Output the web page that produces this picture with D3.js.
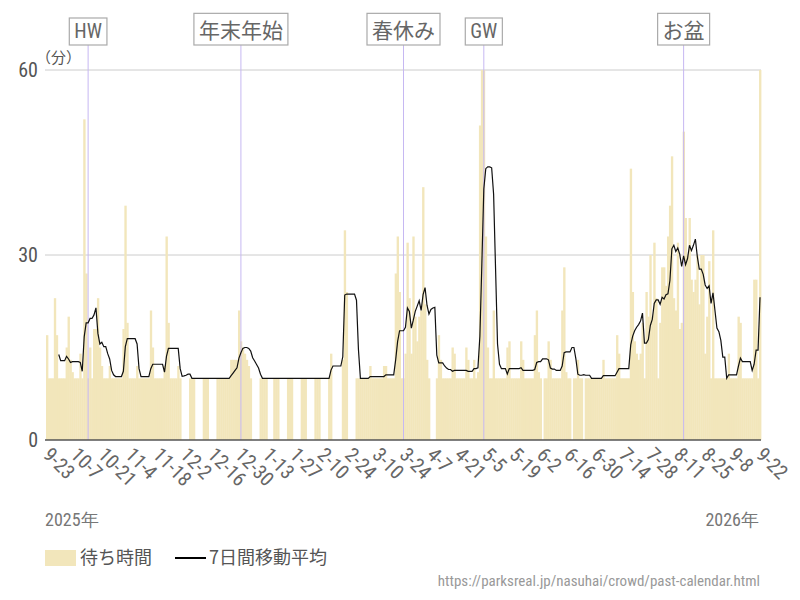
<!DOCTYPE html>
<html><head><meta charset="utf-8">
<script src="https://cdn.jsdelivr.net/npm/d3@7"></script>
<style>
body{margin:0;background:#fff;}
svg{display:block;}
.lat{font-family:"Roboto Condensed","Liberation Sans Narrow","Arial Narrow",Roboto,sans-serif;}
.jp{font-family:"Noto Sans CJK JP","Noto Sans",sans-serif;}
</style></head><body>
<svg id="c" width="800" height="600"></svg>
<script>
// ---- data (minutes; null = closed) ----
const startDate = "2025-09-23";
const sep2025 = [17,10,10,10,23,17,10,10];
const oct2025 = [10,10,15,20,13,11,10,10,10,14,10,52,27,10,15,10,18,18,23,15,12,10,10,10,12,10,10,10,10,10,10];
const nov2025 = [18,38,19,10,10,10,10,12,10,10,10,10,10,10,21,15,10,10,10,10,10,12,33,19,10,10,10,10,12,10];
const dec2025 = [null,null,null,null,10,10,10,null,null,null,null,10,10,10,null,null,null,null,10,10,10,10,10,10,10,13,13,13,13,21,16];
const jan2026 = [15,14,13,12,10,null,null,null,null,10,10,10,10,null,null,null,10,10,10,null,null,null,null,10,10,10,null,null,null,null,10];
const feb2026 = [10,10,null,null,null,null,10,10,10,null,null,null,null,10,14,null,null,null,null,null,13,34,24,null,null,null,null,10];
const mar2026 = [10,10,10,10,10,10,12,10,10,10,10,10,10,12,12,10,10,10,10,27,33,24,10,10,14,32,23,14,33,20,16];
const apr2026 = [20,21,41,22,13,10,null,null,null,10,17,13,10,10,10,10,10,15,14,10,10,10,10,10,15,13,10,10,13,10];
const may2026 = [11,51,95,95,33,15,10,10,21,10,10,10,10,10,10,15,16,10,10,10,10,10,16,13,10,10,10,10,10,17,21];
const jun2026 = [11,10,null,10,10,16,13,10,10,10,10,10,21,28,11,10,10,null,10,10,13,10,10,null,10,10,10,10,10,10];
const jul2026 = [10,10,10,13,10,10,10,10,10,10,17,14,10,10,10,10,10,44,24,16,14,13,14,19,10,24,20,30,20,32,23];
const aug2026 = [10,19,28,28,25,33,38,46,23,21,32,18,19,50,36,30,36,26,24,26,30,22,30,30,14,20,29,10,34,10,10];
const sep2026 = [10,10,10,10,10,14,10,10,10,10,20,19,10,10,10,10,10,10,26,26,10,70];

const tickDates = ["2025-09-23","2025-10-07","2025-10-21","2025-11-04","2025-11-18","2025-12-02","2025-12-16","2025-12-30",
  "2026-01-13","2026-01-27","2026-02-10","2026-02-24","2026-03-10","2026-03-24","2026-04-07","2026-04-21","2026-05-05",
  "2026-05-19","2026-06-02","2026-06-16","2026-06-30","2026-07-14","2026-07-28","2026-08-11","2026-08-25","2026-09-08","2026-09-22"];
const yTicks = [0,30,60];
const eventLabels = ["HW","年末年始","春休み","GW","お盆"];
const eventDates = ["2025-10-14","2025-12-31","2026-03-24","2026-05-04","2026-08-14"];
const yearLabels = ["2025年","2026年"];
const legendLabels = ["待ち時間","7日間移動平均"];
const unitLabel = "（分）";
const sourceText = "https://parksreal.jp/nasuhai/crowd/past-calendar.html";

// ---- build ----
const parse = d3.utcParse("%Y-%m-%d");
const t0 = parse(startDate);
const waits = [].concat(sep2025,oct2025,nov2025,dec2025,jan2026,feb2026,mar2026,apr2026,may2026,jun2026,jul2026,aug2026,sep2026);
const data = waits.map((v,i)=>({date:d3.utcDay.offset(t0,i), v}));
// 7-day trailing moving average of the recorded (non-closed) days
const ma = [];
data.forEach((d,i)=>{
  if(i<6) return;
  const w = waits.slice(i-6,i+1).filter(v=>v!=null);
  if(w.length) ma.push({date:d.date, v:d3.mean(w)});
});

const BAR="#f2e6bb", TXT="#666";
const svg = d3.select("#c");
const x = d3.scaleBand().domain(data.map(d=>+d.date)).range([46,761]).padding(0);
const xc = d => x(+d) + x.bandwidth()/2;
const y = d3.scaleLinear().domain([0,60]).range([440,70]).clamp(true);

// grid
svg.append("g").selectAll("line").data(yTicks.filter(t=>t>0)).join("line")
  .attr("x1",45).attr("x2",761).attr("y1",d=>y(d)).attr("y2",d=>y(d))
  .attr("stroke","#cccccc").attr("stroke-width",1);

// bars
svg.append("g").selectAll("rect").data(data.filter(d=>d.v!=null)).join("rect")
  .attr("x",d=>x(+d.date)).attr("width",x.bandwidth()+0.4)
  .attr("y",d=>y(d.v)).attr("height",d=>y(0)-y(d.v)).attr("fill",BAR);

// event lines
const ev = eventLabels.map((l,i)=>({label:l,date:parse(eventDates[i])}));
svg.append("g").selectAll("line").data(ev).join("line")
  .attr("x1",d=>xc(d.date)).attr("x2",d=>xc(d.date)).attr("y1",45).attr("y2",440)
  .attr("stroke","#c6b8f2").attr("stroke-width",1);

// moving average
svg.append("path").datum(ma)
  .attr("d",d3.line().x(d=>xc(d.date)).y(d=>y(d.v)))
  .attr("fill","none").attr("stroke","#111").attr("stroke-width",1.2);

// x axis
const xAxis = svg.append("g").attr("transform","translate(0,440)")
  .call(d3.axisBottom(x).tickValues(tickDates.map(s=>+parse(s))).tickSize(0).tickPadding(7)
    .tickFormat(d=>d3.utcFormat("%-m-%-d")(new Date(d))));
xAxis.select(".domain").attr("stroke","#555").attr("stroke-width",1.5).attr("d","M45,0H761");
xAxis.selectAll("text").attr("class","lat").attr("font-size",20).attr("fill",TXT)
  .attr("text-anchor","start").attr("dy","0.35em").attr("y",0)
  .attr("transform","translate(0,11) rotate(45)");
xAxis.selectAll(".tick").each(function(d){
  d3.select(this).attr("transform",`translate(${xc(d)},0)`);
});

// y axis labels
svg.append("g").selectAll("text").data(yTicks).join("text")
  .attr("class","lat").attr("x",38).attr("y",d=>y(d)).attr("dy","0.35em")
  .attr("text-anchor","end").attr("font-size",20).attr("fill","#555").text(d=>d);
svg.append("text").attr("class","jp").attr("x",36).attr("y",63).attr("font-size",15)
  .attr("fill","#555").text(unitLabel);

// event boxes
const eg = svg.append("g").selectAll("g").data(ev).join("g");
eg.append("text").attr("class",d=>/^[A-Z]+$/.test(d.label)?"lat":"jp")
  .attr("x",d=>xc(d.date)).attr("y",31).attr("dy","0.35em").attr("text-anchor","middle")
  .attr("font-size",d=>/^[A-Z]+$/.test(d.label)?20:21).attr("fill",TXT).text(d=>d.label);
eg.each(function(){
  const g=d3.select(this), b=g.select("text").node().getBBox();
  g.insert("rect","text").attr("x",b.x-5).attr("y",b.y-1).attr("width",b.width+10).attr("height",45-(b.y-1))
    .attr("fill","#fff").attr("stroke","#aaa").attr("stroke-width",1.2);
});

// year labels
svg.append("text").attr("class","lat").attr("x",45).attr("y",526).attr("font-size",18).attr("fill","#777").text(yearLabels[0]);
svg.append("text").attr("class","lat").attr("x",759).attr("y",526).attr("text-anchor","end").attr("font-size",18).attr("fill","#777").text(yearLabels[1]);

// legend
svg.append("rect").attr("x",45).attr("y",550).attr("width",31).attr("height",16).attr("fill",BAR);
svg.append("text").attr("class","jp").attr("x",80).attr("y",558).attr("dy","0.35em").attr("font-size",18).attr("fill","#555").text(legendLabels[0]);
svg.append("line").attr("x1",175).attr("x2",206).attr("y1",558).attr("y2",558).attr("stroke","#000").attr("stroke-width",2);
svg.append("text").attr("class","jp").attr("x",209).attr("y",558).attr("dy","0.35em").attr("font-size",18).attr("fill","#555").text(legendLabels[1]);

// source
svg.append("text").attr("class","lat").attr("x",760).attr("y",586).attr("text-anchor","end")
  .attr("font-size",15).attr("fill","#999").text(sourceText);
</script>
</body></html>
